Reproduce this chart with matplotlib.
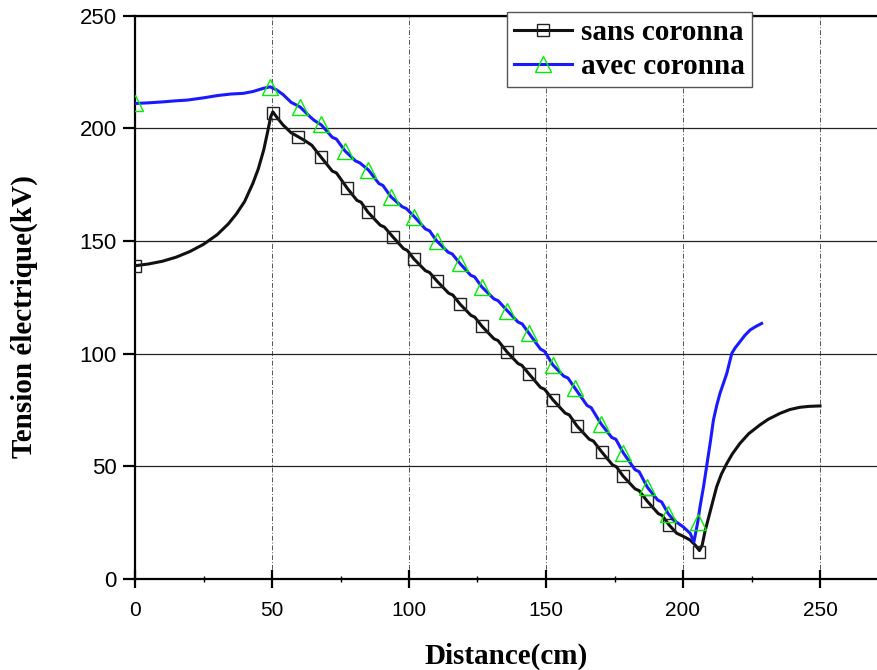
import matplotlib.pyplot as plt
from matplotlib.lines import Line2D
from matplotlib.ticker import MultipleLocator

# Data
# sans coronna (black)
x_sans = [0, 5, 10, 15, 20, 25, 30, 34, 37, 40, 43, 45, 47, 48.5, 49.5, 50.3, 51.7, 54, 57, 59.5,
          62, 64.5, 67.9, 72, 73.5, 77.4, 81, 82.5, 85, 89.5, 91, 94.2, 98, 99.4, 101.8,
          106, 107.5, 110.2, 114.5, 116, 118.6, 122.6, 124, 126.6, 131, 132.5, 135.8,
          139.8, 141.2, 143.8, 148, 149.5, 152.6, 157, 158.5, 161.3, 165.8, 167.3, 170.4,
          174.3, 175.7, 178.1, 182.5, 184, 186.9, 191, 192.4, 194.9, 197.7, 200, 202.6,
          204.5, 206, 207, 208, 209.5, 211, 212.3, 214, 216, 218, 220.8, 224, 228, 231,
          235.4, 239, 242.7, 246, 250]
y_sans = [139, 139.8, 141, 142.8, 145.3, 148.5, 152.8, 157.5, 162, 167.5, 175.5, 182, 190.5, 199,
          205, 207.3, 205, 201.5, 198, 196.3, 194.5, 192.5, 187.2, 181, 180.2, 173.5, 168,
          167.2, 162.8, 157, 156.2, 151.7, 146.6, 145.8, 142, 136.8, 136, 132.2, 126.8, 126,
          122, 117, 116.2, 112.2, 106.6, 105.8, 100.7, 95.6, 94.8, 91, 85, 84.2, 79.4, 73.6,
          72.8, 67.9, 62, 61.2, 56.3, 50.6, 49.8, 45.7, 40, 39.2, 34.6, 29, 28.2, 24, 20.3,
          19, 17.3, 15, 12.6, 15, 21, 28, 35, 41, 46.5, 51.3, 55.5, 60.2, 64.5, 68.3, 70.8,
          73.5, 75.2, 76.2, 76.6, 76.8]
xm_sans = [0, 50.5, 59.5, 67.9, 77.4, 85, 94.2, 101.8, 110.2, 118.6, 126.6, 135.8, 143.8,
           152.6, 161.3, 170.4, 178.1, 186.9, 194.9, 205.8]
ym_sans = [139, 207, 196.3, 187.2, 173.5, 162.8, 151.7, 142, 132.2, 122, 112.2, 100.7, 91,
           79.4, 67.9, 56.3, 45.7, 34.6, 24, 12]

# avec coronna (blue)
x_avec = [0, 5, 10, 15, 19, 25, 30, 35, 39.5, 43, 46.8, 49.3, 51.7, 54, 57, 60.2, 64, 65.3,
          68, 72, 73.5, 76.6, 80.5, 82, 85.2, 89, 90.5, 93.4, 97.5, 99, 102, 106, 107.5,
          110.1, 114.3, 115.8, 118.6, 122.5, 124, 126.5, 131, 132.5, 135.9, 139.8, 141.3,
          143.8, 148, 149.5, 152.5, 156.5, 158, 160.6, 165, 166.5, 170, 174, 175.5, 178.2,
          182.5, 184, 187, 190.8, 192.2, 194.6, 196.5, 200, 202.6, 204, 205.4, 206.2, 207.5,
          208.6, 210, 211.1, 212.3, 213.5, 214.8, 216, 217.8, 219, 220.8, 222.5, 224.5,
          226.5, 228.7]
y_avec = [211, 211.3, 211.7, 212.2, 212.5, 213.5, 214.5, 215.2, 215.5, 216.3, 217.7, 218.4,
          217, 215, 211.5, 209.5, 205, 203.6, 201.5, 196, 195.2, 190, 185.5, 184.7, 181.5,
          175.5, 174.6, 169.6, 165.2, 164.4, 160.7, 155.3, 154.5, 150, 145, 144.2, 140,
          134.8, 134, 129.7, 124.3, 123.5, 119, 114, 113.2, 109, 102, 101, 95, 90, 89.2,
          84.6, 77, 76, 69, 62.8, 62, 56, 48.5, 47.6, 40.7, 35, 34.2, 29, 26.2, 23.2, 20.3,
          16.5, 25.4, 32, 41, 49.8, 61, 70.5, 77, 82.4, 87, 91.3, 100.1, 102.5, 105.3, 108,
          110.5, 112, 113.4]
xm_avec = [0, 49.3, 60.2, 67.8, 76.6, 85.2, 93.4, 102, 110.1, 118.6, 126.5, 135.9, 143.8,
           152.5, 160.6, 170, 178.2, 187, 194.6, 205.4]
ym_avec = [211, 218.4, 209.5, 202, 190, 181.5, 169.6, 160.7, 150, 140, 129.7, 119, 109, 95,
           84.6, 69, 56, 40.7, 29, 25.4]

labels = ['sans coronna', 'avec coronna']
xticks = [0, 50, 100, 150, 200, 250]
yticks = [0, 50, 100, 150, 200, 250]

fig = plt.figure(figsize=(8.78, 6.7), dpi=100)
ax = fig.add_axes([135 / 878, 1 - 579 / 670, 1 - 135 / 878, (579 - 15.6) / 670])

# Lines
ax.plot(x_sans, y_sans, color='#111111', lw=2.2, zorder=3)
ax.plot(x_avec, y_avec, color='#1a1aff', lw=2.2, zorder=3)

# Markers
ax.plot(xm_sans, ym_sans, ls='none', marker='s', ms=8, mfc='none', mec='#222222', mew=1.0, zorder=4)
ax.plot(xm_avec, ym_avec, ls='none', marker='^', ms=11, mfc='none', mec='#00ee00', mew=1.0, zorder=4)

ax.set_xlim(0, (878 - 135) / 2.74)
ax.set_ylim(0, 250)
ax.set_xticks(xticks)
ax.set_yticks(yticks)
ax.xaxis.set_minor_locator(MultipleLocator(25))

# Grid: solid horizontal lines, dash-dot vertical lines
ax.yaxis.grid(True, ls='-', color='#222222', lw=0.9)
ax.xaxis.grid(True, ls=(0, (5, 2, 1, 2)), color='#555555', lw=0.7)
ax.set_axisbelow(True)

for side in ['left', 'bottom', 'top']:
    ax.spines[side].set_linewidth(1.6)
ax.spines['right'].set_visible(False)

ax.tick_params(axis='x', which='major', direction='inout', length=13, width=1.6, labelsize=15, pad=9)
ax.tick_params(axis='x', which='minor', direction='inout', length=4, width=1.0)
ax.tick_params(axis='y', which='major', direction='out', length=9, width=1.6, labelsize=16, pad=4)
for lab in ax.get_xticklabels() + ax.get_yticklabels():
    lab.set_family('Liberation Sans')

ax.set_xlabel('Distance(cm)', family='Liberation Serif', fontweight='bold', fontsize=21, labelpad=17)
ax.set_ylabel('Tension électrique(kV)', family='Liberation Serif', fontweight='bold', fontsize=21, labelpad=30)
ax.yaxis.label.set_y(0.465)

# Legend
handles = [
    Line2D([], [], color='#111111', lw=2.2, marker='s', ms=8, mfc='none', mec='#222222', mew=1.0),
    Line2D([], [], color='#1a1aff', lw=2.2, marker='^', ms=11, mfc='none', mec='#00ee00', mew=1.0),
]
leg = ax.legend(handles, labels, loc='upper left', bbox_to_anchor=(507 / 878, 1 - 12 / 670),
                bbox_transform=fig.transFigure, borderaxespad=0, frameon=True, fancybox=False,
                edgecolor='#555555', handlelength=2.0, handletextpad=0.3, borderpad=0.24,
                labelspacing=0.25, prop={'family': 'Liberation Serif', 'weight': 'bold', 'size': 21})
leg.get_frame().set_linewidth(1.0)
leg.get_frame().set_alpha(1)
leg.set_zorder(10)

fig.savefig('out.png', dpi=100)
